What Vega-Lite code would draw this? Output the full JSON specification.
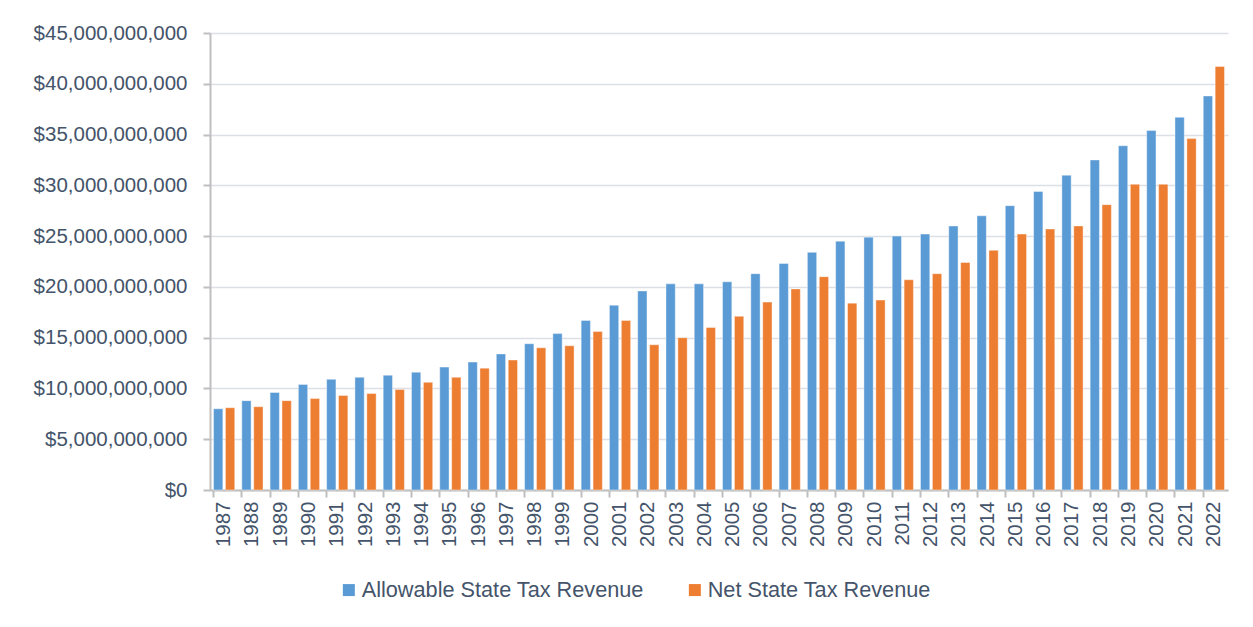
{
  "$schema": "https://vega.github.io/schema/vega-lite/v6.json",
  "autosize": {"type": "none"},
  "padding": {"left": 210, "top": 33, "right": 25, "bottom": 137},
  "width": 1018,
  "height": 457,
  "background": "white",
  "config": {
    "view": {"stroke": null},
    "font": "Liberation Sans"
  },
  "datasets": {
    "rev": [
      {"year": "1987", "series": "Allowable State Tax Revenue", "value": 8.0e9},
      {"year": "1987", "series": "Net State Tax Revenue", "value": 8.1e9},
      {"year": "1988", "series": "Allowable State Tax Revenue", "value": 8.8e9},
      {"year": "1988", "series": "Net State Tax Revenue", "value": 8.2e9},
      {"year": "1989", "series": "Allowable State Tax Revenue", "value": 9.6e9},
      {"year": "1989", "series": "Net State Tax Revenue", "value": 8.8e9},
      {"year": "1990", "series": "Allowable State Tax Revenue", "value": 10.4e9},
      {"year": "1990", "series": "Net State Tax Revenue", "value": 9.0e9},
      {"year": "1991", "series": "Allowable State Tax Revenue", "value": 10.9e9},
      {"year": "1991", "series": "Net State Tax Revenue", "value": 9.3e9},
      {"year": "1992", "series": "Allowable State Tax Revenue", "value": 11.1e9},
      {"year": "1992", "series": "Net State Tax Revenue", "value": 9.5e9},
      {"year": "1993", "series": "Allowable State Tax Revenue", "value": 11.3e9},
      {"year": "1993", "series": "Net State Tax Revenue", "value": 9.9e9},
      {"year": "1994", "series": "Allowable State Tax Revenue", "value": 11.6e9},
      {"year": "1994", "series": "Net State Tax Revenue", "value": 10.6e9},
      {"year": "1995", "series": "Allowable State Tax Revenue", "value": 12.1e9},
      {"year": "1995", "series": "Net State Tax Revenue", "value": 11.1e9},
      {"year": "1996", "series": "Allowable State Tax Revenue", "value": 12.6e9},
      {"year": "1996", "series": "Net State Tax Revenue", "value": 12.0e9},
      {"year": "1997", "series": "Allowable State Tax Revenue", "value": 13.4e9},
      {"year": "1997", "series": "Net State Tax Revenue", "value": 12.8e9},
      {"year": "1998", "series": "Allowable State Tax Revenue", "value": 14.4e9},
      {"year": "1998", "series": "Net State Tax Revenue", "value": 14.0e9},
      {"year": "1999", "series": "Allowable State Tax Revenue", "value": 15.4e9},
      {"year": "1999", "series": "Net State Tax Revenue", "value": 14.2e9},
      {"year": "2000", "series": "Allowable State Tax Revenue", "value": 16.7e9},
      {"year": "2000", "series": "Net State Tax Revenue", "value": 15.6e9},
      {"year": "2001", "series": "Allowable State Tax Revenue", "value": 18.2e9},
      {"year": "2001", "series": "Net State Tax Revenue", "value": 16.7e9},
      {"year": "2002", "series": "Allowable State Tax Revenue", "value": 19.6e9},
      {"year": "2002", "series": "Net State Tax Revenue", "value": 14.3e9},
      {"year": "2003", "series": "Allowable State Tax Revenue", "value": 20.3e9},
      {"year": "2003", "series": "Net State Tax Revenue", "value": 15.0e9},
      {"year": "2004", "series": "Allowable State Tax Revenue", "value": 20.3e9},
      {"year": "2004", "series": "Net State Tax Revenue", "value": 16.0e9},
      {"year": "2005", "series": "Allowable State Tax Revenue", "value": 20.5e9},
      {"year": "2005", "series": "Net State Tax Revenue", "value": 17.1e9},
      {"year": "2006", "series": "Allowable State Tax Revenue", "value": 21.3e9},
      {"year": "2006", "series": "Net State Tax Revenue", "value": 18.5e9},
      {"year": "2007", "series": "Allowable State Tax Revenue", "value": 22.3e9},
      {"year": "2007", "series": "Net State Tax Revenue", "value": 19.8e9},
      {"year": "2008", "series": "Allowable State Tax Revenue", "value": 23.4e9},
      {"year": "2008", "series": "Net State Tax Revenue", "value": 21.0e9},
      {"year": "2009", "series": "Allowable State Tax Revenue", "value": 24.5e9},
      {"year": "2009", "series": "Net State Tax Revenue", "value": 18.4e9},
      {"year": "2010", "series": "Allowable State Tax Revenue", "value": 24.9e9},
      {"year": "2010", "series": "Net State Tax Revenue", "value": 18.7e9},
      {"year": "2011", "series": "Allowable State Tax Revenue", "value": 25.0e9},
      {"year": "2011", "series": "Net State Tax Revenue", "value": 20.7e9},
      {"year": "2012", "series": "Allowable State Tax Revenue", "value": 25.2e9},
      {"year": "2012", "series": "Net State Tax Revenue", "value": 21.3e9},
      {"year": "2013", "series": "Allowable State Tax Revenue", "value": 26.0e9},
      {"year": "2013", "series": "Net State Tax Revenue", "value": 22.4e9},
      {"year": "2014", "series": "Allowable State Tax Revenue", "value": 27.0e9},
      {"year": "2014", "series": "Net State Tax Revenue", "value": 23.6e9},
      {"year": "2015", "series": "Allowable State Tax Revenue", "value": 28.0e9},
      {"year": "2015", "series": "Net State Tax Revenue", "value": 25.2e9},
      {"year": "2016", "series": "Allowable State Tax Revenue", "value": 29.4e9},
      {"year": "2016", "series": "Net State Tax Revenue", "value": 25.7e9},
      {"year": "2017", "series": "Allowable State Tax Revenue", "value": 31.0e9},
      {"year": "2017", "series": "Net State Tax Revenue", "value": 26.0e9},
      {"year": "2018", "series": "Allowable State Tax Revenue", "value": 32.5e9},
      {"year": "2018", "series": "Net State Tax Revenue", "value": 28.1e9},
      {"year": "2019", "series": "Allowable State Tax Revenue", "value": 33.9e9},
      {"year": "2019", "series": "Net State Tax Revenue", "value": 30.1e9},
      {"year": "2020", "series": "Allowable State Tax Revenue", "value": 35.4e9},
      {"year": "2020", "series": "Net State Tax Revenue", "value": 30.1e9},
      {"year": "2021", "series": "Allowable State Tax Revenue", "value": 36.7e9},
      {"year": "2021", "series": "Net State Tax Revenue", "value": 34.6e9},
      {"year": "2022", "series": "Allowable State Tax Revenue", "value": 38.8e9},
      {"year": "2022", "series": "Net State Tax Revenue", "value": 41.7e9}
    ]
  },
  "data": {"name": "rev"},
  "mark": {"type": "bar", "stroke": "white", "strokeOpacity": 0.4, "strokeWidth": 1},
  "encoding": {
    "x": {
      "field": "year",
      "type": "nominal",
      "title": null,
      "scale": {"paddingInner": 0.25, "paddingOuter": 0.125},
      "axis": {
        "labelAngle": -90,
        "labelAlign": "right",
        "labelBaseline": "middle",
        "labelFontSize": 20.5,
        "labelColor": "#44546A",
        "labelPadding": 4,
        "tickSize": 7,
        "tickColor": "#BFBFBF",
        "tickWidth": 2,
        "bandPosition": 0,
        "domainColor": "#BFBFBF",
        "domainWidth": 2,
        "grid": false
      }
    },
    "xOffset": {
      "field": "series",
      "type": "nominal",
      "scale": {"paddingInner": 0.22, "paddingOuter": 0}
    },
    "y": {
      "field": "value",
      "type": "quantitative",
      "title": null,
      "scale": {"domain": [0, 45000000000], "nice": false},
      "axis": {
        "values": [0, 5000000000, 10000000000, 15000000000, 20000000000, 25000000000, 30000000000, 35000000000, 40000000000, 45000000000],
        "format": "$,.0f",
        "labelFontSize": 20.5,
        "labelColor": "#44546A",
        "labelPadding": 16,
        "tickSize": 7,
        "tickColor": "#BFBFBF",
        "tickWidth": 2,
        "domainColor": "#BFBFBF",
        "domainWidth": 2,
        "grid": true,
        "gridColor": "#DCE0E6",
        "gridWidth": 1.5
      }
    },
    "color": {
      "field": "series",
      "type": "nominal",
      "scale": {
        "domain": ["Allowable State Tax Revenue", "Net State Tax Revenue"],
        "range": ["#5B9BD5", "#ED7D31"]
      },
      "legend": {
        "title": null,
        "orient": "none",
        "direction": "horizontal",
        "legendX": 128,
        "legendY": 546,
        "padding": 0,
        "symbolType": "square",
        "symbolSize": 144,
        "symbolStrokeWidth": 0,
        "labelFontSize": 21.7,
        "labelColor": "#44546A",
        "labelOffset": 2,
        "labelLimit": 400,
        "columnPadding": 40
      }
    }
  }
}
